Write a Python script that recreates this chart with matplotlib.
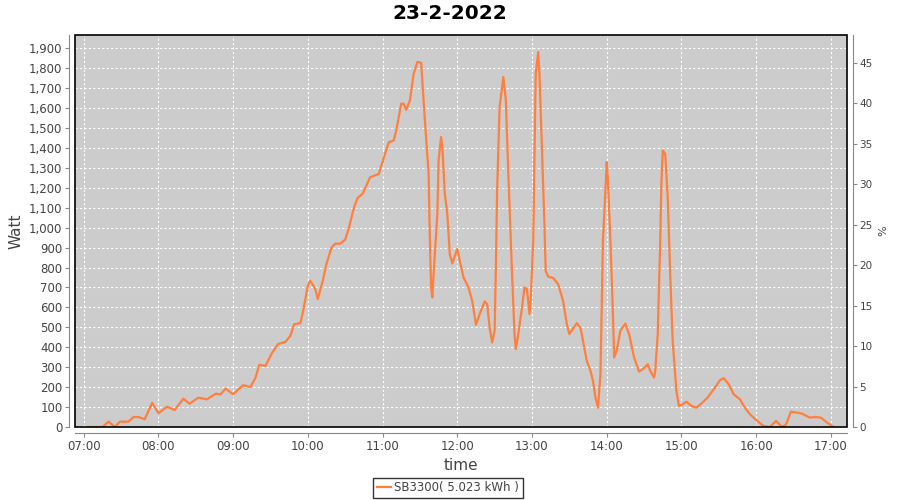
import pandas as pd
import matplotlib
matplotlib.use("Agg")
import matplotlib.pyplot as plt
import matplotlib.dates as mdates
from matplotlib.patches import Rectangle
from matplotlib.ticker import FuncFormatter, MultipleLocator

# readings of 23-2-2022 (time, watt)
times = ["07:04", "07:15", "07:20", "07:25", "07:29", "07:36", "07:40", "07:44", "07:49", "07:55",
         "08:00", "08:07", "08:13", "08:20", "08:25", "08:32", "08:39", "08:46", "08:50", "08:54",
         "09:00", "09:08", "09:14", "09:18", "09:21", "09:26", "09:31", "09:36", "09:42", "09:46",
         "09:49", "09:54", "09:56", "10:00", "10:02", "10:06", "10:08", "10:12", "10:15", "10:19",
         "10:22", "10:26", "10:30", "10:33", "10:37", "10:40", "10:44", "10:50", "10:57", "10:59",
         "11:05", "11:09", "11:11", "11:15", "11:17", "11:19", "11:22", "11:25", "11:28", "11:31",
         "11:34", "11:37", "11:38", "11:39", "11:40", "11:41", "11:44", "11:45", "11:47", "11:48",
         "11:50", "11:52", "11:54", "11:56", "12:00", "12:02", "12:05", "12:09", "12:12", "12:15",
         "12:18", "12:22", "12:24", "12:26", "12:28", "12:30", "12:31", "12:32", "12:34", "12:37",
         "12:39", "12:41", "12:44", "12:46", "12:47", "12:49", "12:52", "12:54", "12:56", "12:58",
         "12:59", "13:01", "13:02", "13:03", "13:05", "13:06", "13:08", "13:10", "13:11", "13:13",
         "13:17", "13:21", "13:25", "13:28", "13:30", "13:36", "13:39", "13:41", "13:44", "13:47",
         "13:49", "13:51", "13:53", "13:55", "13:56", "13:57", "13:59", "14:00", "14:01", "14:03",
         "14:05", "14:06", "14:08", "14:11", "14:15", "14:18", "14:22", "14:26", "14:29", "14:33",
         "14:35", "14:38", "14:39", "14:41", "14:43", "14:44", "14:45", "14:47", "14:49", "14:51",
         "14:53", "14:56", "14:58", "15:01", "15:04", "15:08", "15:12", "15:16", "15:21", "15:27",
         "15:31", "15:34", "15:38", "15:42", "15:47", "15:51", "15:55", "16:01", "16:06", "16:11",
         "16:16", "16:21", "16:24", "16:28", "16:33", "16:37", "16:43", "16:48", "16:52", "16:57",
         "17:02"]
watt = [0, 0, 27, 0, 27, 27, 50, 50, 39, 122,
        69, 102, 85, 142, 117, 147, 139, 167, 164, 193,
        164, 210, 201, 248, 312, 307, 369, 416, 427, 458,
        516, 521, 575, 709, 734, 692, 642, 734, 820, 900,
        920, 920, 940, 1000, 1100, 1150, 1170, 1253, 1270, 1312,
        1429, 1438, 1488, 1622, 1622, 1592, 1639, 1773, 1832, 1827,
        1538, 1270, 935, 700, 650, 769, 1069, 1337, 1455, 1404,
        1170, 1069, 868, 821, 893, 835, 751, 700, 633, 513,
        567, 630, 617, 499, 424, 483, 801, 1187, 1605, 1756,
        1639, 1270, 768, 466, 391, 466, 600, 700, 692, 567,
        642, 935, 1354, 1773, 1882, 1773, 1404, 1019, 784, 754,
        748, 717, 633, 516, 466, 521, 496, 432, 332, 282,
        231, 147, 97, 265, 600, 935, 1187, 1329, 1237, 935,
        567, 349, 382, 483, 519, 466, 349, 278, 290, 315,
        282, 248, 282, 466, 935, 1237, 1388, 1371, 1153, 768,
        432, 181, 106, 114, 127, 106, 97, 117, 147, 198,
        235, 245, 215, 164, 139, 97, 64, 30, 5, 0,
        30, 0, 13, 77, 72, 67, 47, 50, 47, 22,
        0]

series_label = "SB3300( 5.023 kWh )"
title = "23-2-2022"

x = pd.to_datetime(["2022-02-23 " + t for t in times])

fig = plt.figure(figsize=(9, 5), dpi=100)
ax = fig.add_axes([75 / 900, 1 - 427 / 500, 772 / 900, 392 / 500])
ax.set_facecolor("#cccccc")

line, = ax.plot(x, watt, color="#ff7f3f", lw=1.6, label=series_label)

ax.set_xlim(pd.Timestamp("2022-02-23 06:53"), pd.Timestamp("2022-02-23 17:13"))
ax.set_ylim(0, 1967)
ax.yaxis.set_major_locator(MultipleLocator(100))
ax.yaxis.set_major_formatter(FuncFormatter(lambda v, p: f"{int(v):,}"))
ax.xaxis.set_major_locator(mdates.HourLocator())
ax.xaxis.set_major_formatter(mdates.DateFormatter("%H:%M"))

ax.grid(True, color="white", linestyle=(0, (2, 2)), lw=0.8)
ax.set_axisbelow(True)

for s in ["top", "right"]:
    ax.spines[s].set_visible(False)
for s in ["left", "bottom"]:
    ax.spines[s].set_position(("outward", 4))
    ax.spines[s].set_color("#888888")
ax.tick_params(colors="#888888", labelcolor="#444444", labelsize=8.5, length=3, pad=2)

# black outline of plot area
ax.add_patch(Rectangle((0, 0), 1, 1, transform=ax.transAxes, fill=False,
                       edgecolor="black", lw=1.2, clip_on=False, zorder=5))

ax.set_ylabel("Watt", fontsize=11, color="#444444", labelpad=4)
ax.set_xlabel("time", fontsize=11, color="#444444", labelpad=4)

ax2 = ax.twinx()
ax2.set_ylim(0, 48.4)
ax2.yaxis.set_major_locator(MultipleLocator(5))
for s in ["top", "left", "bottom"]:
    ax2.spines[s].set_visible(False)
ax2.spines["right"].set_position(("outward", 4))
ax2.spines["right"].set_color("#888888")
ax2.tick_params(colors="#888888", labelcolor="#444444", labelsize=7.5, length=3, pad=2)
ax2.set_ylabel("%", fontsize=8, color="#444444", labelpad=4)

fig.suptitle(title, fontsize=14.5, fontweight="bold", y=0.992)

leg = fig.legend(handles=[line], loc="center", bbox_to_anchor=(448 / 900, 1 - 488 / 500),
                 fontsize=8.5, frameon=True, fancybox=False, handlelength=1.2,
                 handletextpad=0.3, borderpad=0.3, labelcolor="#444444")
leg.get_frame().set_edgecolor("black")
leg.get_frame().set_linewidth(1)

fig.savefig("out.png", dpi=100)
